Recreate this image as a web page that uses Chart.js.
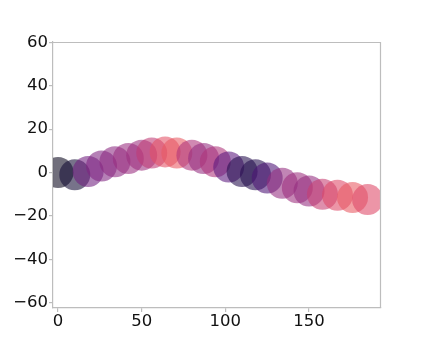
<!DOCTYPE html>
<html>
<head>
<meta charset="utf-8">
<script src="https://cdn.jsdelivr.net/npm/chart.js@4.4.1/dist/chart.umd.min.js"></script>
<style>
  html, body { margin: 0; padding: 0; background: #ffffff; }
  #wrap { width: 423px; height: 347px; }
</style>
</head>
<body>
<div id="wrap"><canvas id="c" width="423" height="347"></canvas></div>
<script>
// ---- data ----
const xValues = [0, 10, 18, 26, 34, 42, 50, 56, 64, 71, 80, 87, 94, 102, 110, 118, 125, 134, 143, 150, 158, 167, 176, 185];
const yValues = [0, -1, 0.5, 3, 5, 6.5, 8, 9, 9.5, 9, 8, 6.5, 5, 2.5, 0.5, -1, -2.5, -5, -7, -8.5, -10, -10.5, -11.5, -12.5];
// colour value of each point (position on the magma colour map)
const colorValues = [0.05, 0.1, 0.33, 0.37, 0.4, 0.43, 0.44, 0.52, 0.62, 0.64, 0.48, 0.42, 0.48, 0.28, 0.14, 0.14, 0.24, 0.42, 0.44, 0.42, 0.54, 0.6, 0.64, 0.6];
const xTicks = [0, 50, 100, 150];
const yTicks = [-60, -40, -20, 0, 20, 40, 60];

// ---- magma colour map ----
const magmaStops = [
  [0, 0, 4], [20, 14, 54], [59, 15, 112], [100, 26, 128], [140, 41, 129],
  [183, 55, 121], [222, 73, 104], [247, 112, 92], [254, 159, 109], [254, 207, 146], [252, 253, 191]
];
function magma(t, alpha) {
  t = Math.max(0, Math.min(1, t));
  const p = t * (magmaStops.length - 1);
  const i = Math.min(Math.floor(p), magmaStops.length - 2);
  const f = p - i;
  const a = magmaStops[i], b = magmaStops[i + 1];
  const c = a.map((v, k) => Math.round(v + (b[k] - v) * f));
  return `rgba(${c[0]},${c[1]},${c[2]},${alpha})`;
}

const points = xValues.map((x, i) => ({ x: x, y: yValues[i] }));
const pointColors = colorValues.map(v => magma(v, 0.58));

const frame = {
  id: 'frame',
  afterDraw(chart) {
    const { ctx, chartArea: a } = chart;
    ctx.save();
    ctx.strokeStyle = '#bdbdbd';
    ctx.lineWidth = 1.2;
    ctx.beginPath();
    ctx.moveTo(a.left, a.top + 0.5);
    ctx.lineTo(a.right - 0.5, a.top + 0.5);
    ctx.lineTo(a.right - 0.5, a.bottom);
    ctx.stroke();
    ctx.restore();
  }
};

const tickFont = { family: 'DejaVu Sans', size: 16.5 };

new Chart(document.getElementById('c'), {
  type: 'scatter',
  data: {
    datasets: [{
      data: points,
      backgroundColor: pointColors,
      borderWidth: 0,
      pointRadius: 15.5,
      pointHoverRadius: 15.5,
      clip: 0
    }]
  },
  options: {
    responsive: false,
    animation: false,
    events: [],
    layout: { padding: { top: 42, right: 42, left: 0, bottom: 0 } },
    plugins: { legend: { display: false }, tooltip: { enabled: false } },
    scales: {
      x: {
        type: 'linear',
        min: -3,
        max: 193,
        afterBuildTicks: s => { s.ticks = xTicks.map(v => ({ value: v })); },
        afterFit: s => { s.height = 39; },
        grid: { display: true, drawOnChartArea: false, drawTicks: true, tickLength: 4, color: '#bdbdbd', lineWidth: 1.2 },
        border: { display: true, color: '#bdbdbd', width: 1.2 },
        ticks: { color: '#111111', font: tickFont, padding: 0, maxRotation: 0, autoSkip: false }
      },
      y: {
        type: 'linear',
        min: -62.5,
        max: 60.2,
        afterBuildTicks: s => { s.ticks = yTicks.map(v => ({ value: v })); },
        afterFit: s => { s.width = 53; },
        grid: { display: true, drawOnChartArea: false, drawTicks: true, tickLength: 4, color: '#bdbdbd', lineWidth: 1.2 },
        border: { display: true, color: '#bdbdbd', width: 1.2 },
        ticks: {
          color: '#111111', font: tickFont, padding: 1, autoSkip: false,
          callback: v => (v < 0 ? '\u2212' + Math.abs(v) : String(v))
        }
      }
    }
  },
  plugins: [frame]
});
</script>
</body>
</html>
